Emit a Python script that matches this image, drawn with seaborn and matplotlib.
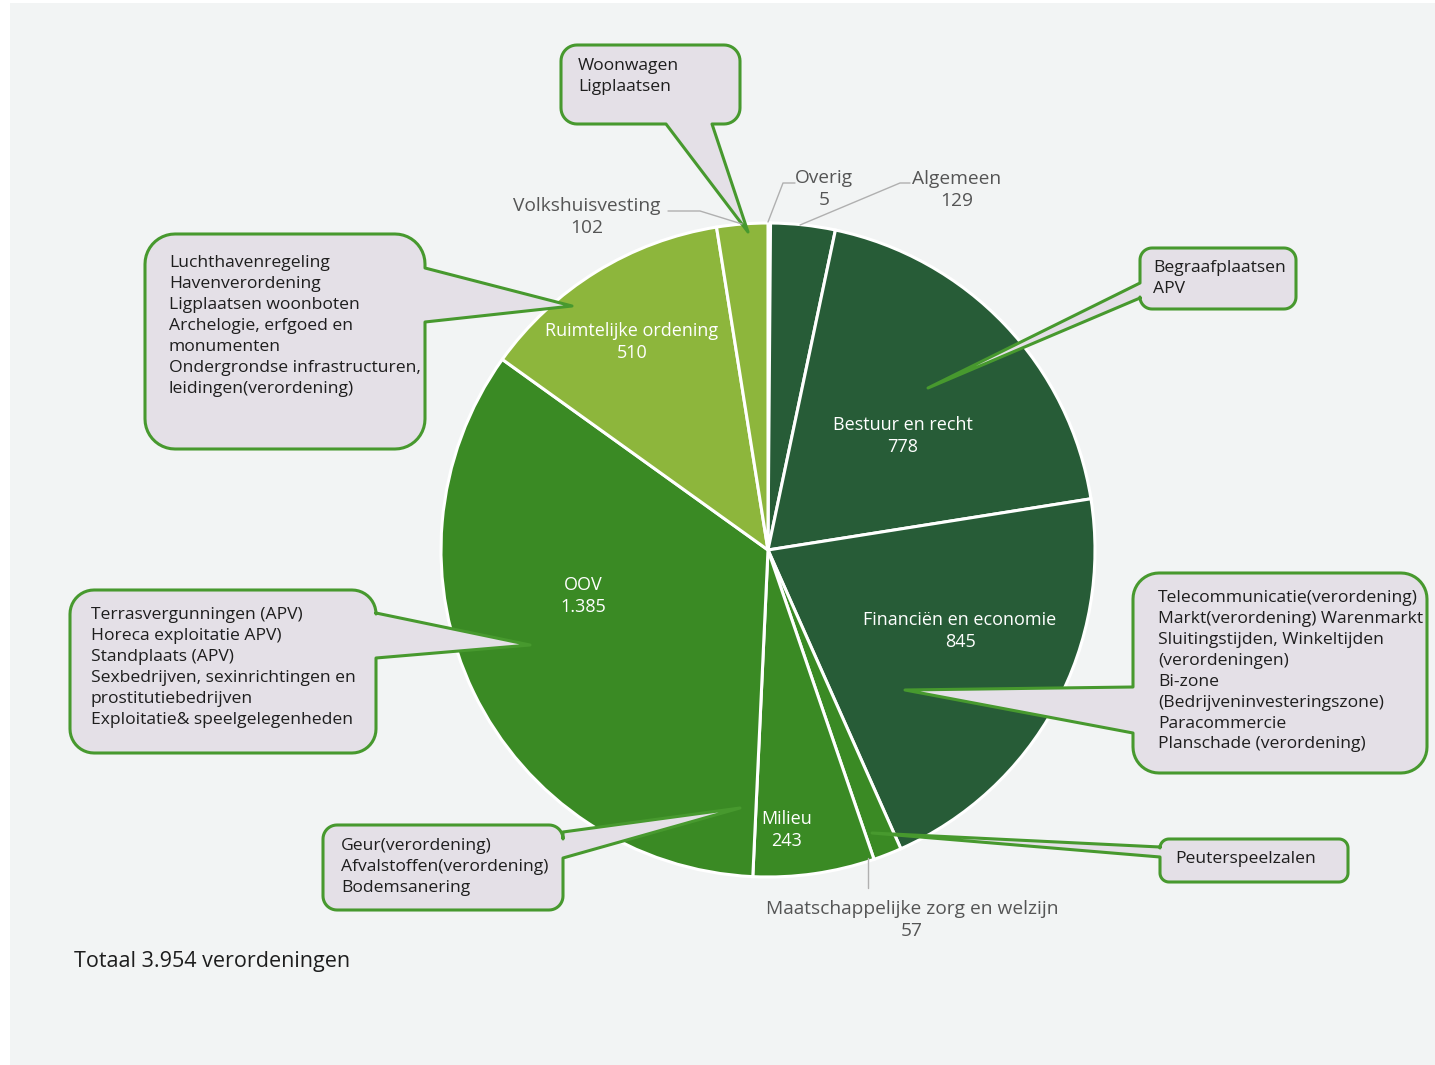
import numpy as np
import matplotlib
matplotlib.use("Agg")
import matplotlib.pyplot as plt
from matplotlib.patches import Polygon, Rectangle
import seaborn as sns

# ---------------- data ----------------
categories = ["Overig", "Algemeen", "Bestuur en recht", "Financiën en economie",
              "Maatschappelijke zorg en welzijn", "Milieu", "OOV",
              "Ruimtelijke ordening", "Volkshuisvesting"]
values = [5, 129, 778, 845, 57, 243, 1385, 510, 102]
value_labels = ["5", "129", "778", "845", "57", "243", "1.385", "510", "102"]
total_label = "Totaal 3.954 verordeningen"

callout_texts = {
    "woonwagen": "Woonwagen\nLigplaatsen",
    "ruimtelijk": "Luchthavenregeling\nHavenverordening\nLigplaatsen woonboten\nArchelogie, erfgoed en\nmonumenten\nOndergrondse infrastructuren,\nleidingen(verordening)",
    "oov": "Terrasvergunningen (APV)\nHoreca exploitatie APV)\nStandplaats (APV)\nSexbedrijven, sexinrichtingen en\nprostitutiebedrijven\nExploitatie& speelgelegenheden",
    "milieu": "Geur(verordening)\nAfvalstoffen(verordening)\nBodemsanering",
    "bestuur": "Begraafplaatsen\nAPV",
    "financien": "Telecommunicatie(verordening)\nMarkt(verordening) Warenmarkt\nSluitingstijden, Winkeltijden\n(verordeningen)\nBi-zone\n(Bedrijveninvesteringszone)\nParacommercie\nPlanschade (verordening)",
    "peuter": "Peuterspeelzalen",
}

# ---------------- style ----------------
sns.set_theme(style="white")
plt.rcParams["font.family"] = ["Open Sans", "DejaVu Sans"]

DARK = "#275c37"
MID = "#3a8a24"
LIGHT = "#8db63c"
slice_colors = sns.color_palette([DARK, DARK, DARK, DARK, MID, MID, MID, LIGHT, LIGHT])

W, H = 1435, 1065
fig = plt.figure(figsize=(W / 100, H / 100), dpi=100, facecolor="white")
ax = fig.add_axes([0, 0, 1, 1])

def Y(y):
    return H - y

# panel background
ax.add_patch(Rectangle((10, 0), W - 10, H - 3, facecolor="#f2f4f4", edgecolor="none", zorder=0))

# ---------------- pie ----------------
cx, cy, R = 768, 550, 327
wedges, _ = ax.pie(values, colors=slice_colors, startangle=90, counterclock=False,
                   center=(cx, Y(cy)), radius=R,
                   wedgeprops=dict(edgecolor="white", linewidth=2.2))
for w in wedges:
    w.set_zorder(2)

ax.set_xlim(0, W)
ax.set_ylim(0, H)
ax.set_aspect("equal")
ax.axis("off")

FS_IN = 13
FS_OUT = 13.8
FS_BOX = 12.6
# labels inside slices
inside = {
    "Bestuur en recht": (903, 436),
    "Financiën en economie": (960, 631),
    "OOV": (583, 596),
    "Ruimtelijke ordening": (632, 342),
    "Milieu": (787, 830),
}
for name, (x, y) in inside.items():
    i = categories.index(name)
    ax.text(x, Y(y), f"{name}\n{value_labels[i]}", ha="center", va="center",
            color="white", fontsize=FS_IN, linespacing=1.35, zorder=6)

# labels outside with leader lines
GRAY = "#555555"
LEAD = "#b0b0b0"
outside = {
    "Volkshuisvesting": ((587, 217), [(668, 211), (700, 211), (742, 224)]),
    "Overig": ((824, 189), [(795, 183), (783, 183), (768, 222)]),
    "Algemeen": ((957, 190), [(910, 183), (900, 183), (800, 225)]),
    "Maatschappelijke zorg en welzijn": ((912, 920), [(868, 858), (868, 888)]),
}
for name, ((x, y), pts) in outside.items():
    i = categories.index(name)
    ax.text(x, Y(y), f"{name}\n{value_labels[i]}", ha="center", va="center",
            color=GRAY, fontsize=FS_OUT, linespacing=1.28, zorder=6)
    xs, ys = zip(*pts)
    ax.plot(xs, [Y(v) for v in ys], color=LEAD, lw=1.0, zorder=5)

# ---------------- callouts ----------------
def arc(cxa, cya, r, a0, a1, n=12):
    a = np.radians(np.linspace(a0, a1, n))
    return [(cxa + r * np.cos(t), cya + r * np.sin(t)) for t in a]

def callout(x0, y0, x1, y1, r, side, p1, p2, tip):
    pts = [(x0 + r, y0)]
    if side == "top":
        pts += [(p1, y0), tip, (p2, y0)]
    pts += arc(x1 - r, y0 + r, r, -90, 0)
    if side == "right":
        pts += [(x1, p1), tip, (x1, p2)]
    pts += arc(x1 - r, y1 - r, r, 0, 90)
    if side == "bottom":
        pts += [(p2, y1), tip, (p1, y1)]
    pts += arc(x0 + r, y1 - r, r, 90, 180)
    if side == "left":
        pts += [(x0, p2), tip, (x0, p1)]
    pts += arc(x0 + r, y0 + r, r, 180, 270)
    pts = [(x, Y(y)) for x, y in pts]
    ax.add_patch(Polygon(pts, closed=True, facecolor="#e4e0e7", edgecolor="#47992e",
                         linewidth=2.2, joinstyle="round", zorder=4))

boxes = {
    "woonwagen": ((561, 45, 740, 124, 16, "bottom", 666, 712, (748, 232)), (578, 58)),
    "ruimtelijk": ((145, 234, 425, 449, 30, "right", 268, 322, (572, 306)), (169, 255)),
    "oov": ((70, 590, 376, 753, 24, "right", 613, 658, (530, 645)), (91, 607)),
    "milieu": ((323, 825, 563, 910, 14, "right", 832, 858, (740, 808)), (341, 838)),
    "bestuur": ((1140, 248, 1296, 309, 12, "left", 283, 298, (928, 388)), (1153, 260)),
    "financien": ((1133, 573, 1427, 773, 26, "left", 687, 733, (905, 690)), (1158, 590)),
    "peuter": ((1160, 839, 1348, 882, 9, "left", 847, 857, (872, 833)), (1175, 851)),
}
for key, (geom, (tx, ty)) in boxes.items():
    callout(*geom)
    ax.text(tx, Y(ty), callout_texts[key], ha="left", va="top", color="#1e1e1e",
            fontsize=FS_BOX, linespacing=1.41, zorder=6)

ax.text(74, Y(961), total_label, ha="left", va="center", color="#1e1e1e",
        fontsize=15.5, zorder=6)

fig.savefig("out.png", dpi=100, facecolor="white")
